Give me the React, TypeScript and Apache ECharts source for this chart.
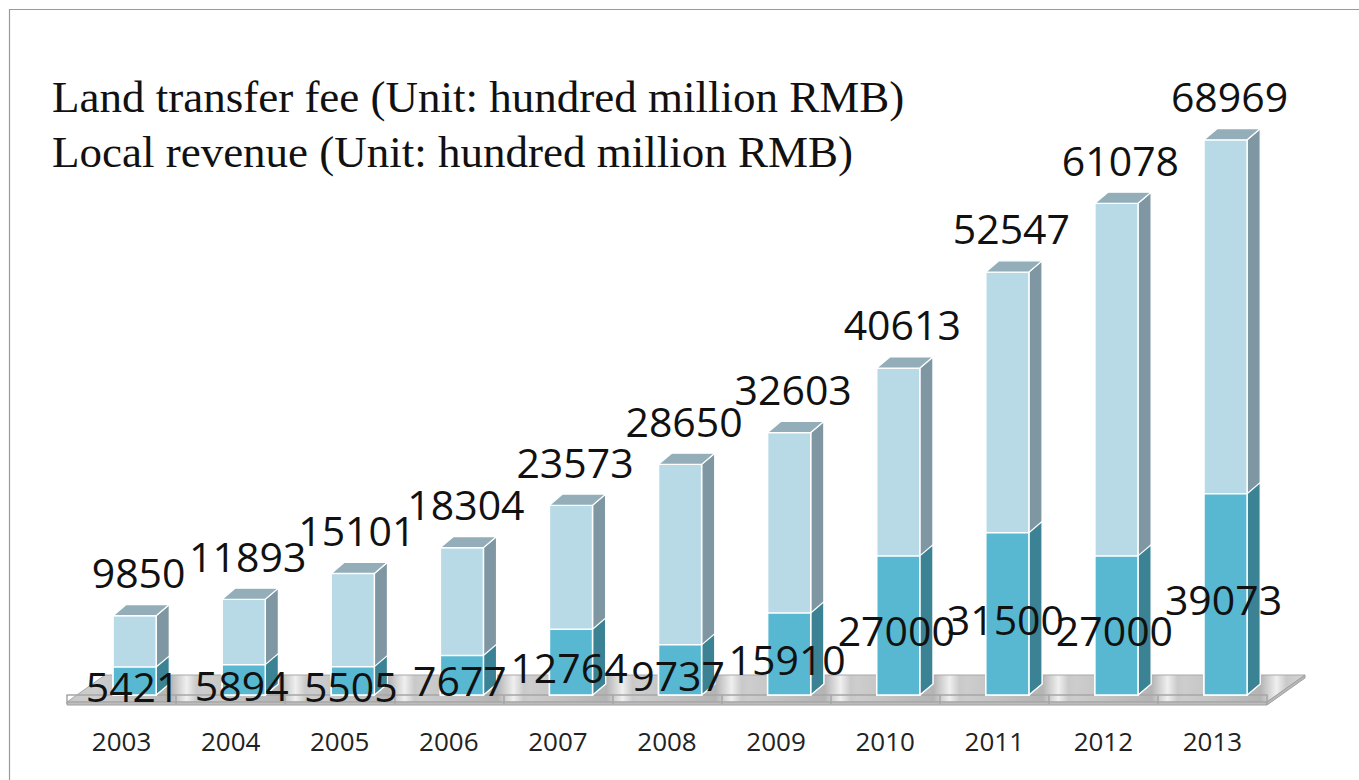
import React, { useEffect, useRef } from "react";
import * as echarts from "echarts";

const years = ["2003", "2004", "2005", "2006", "2007", "2008", "2009", "2010", "2011", "2012", "2013"];
const localRevenue = [9850, 11893, 15101, 18304, 23573, 28650, 32603, 40613, 52547, 61078, 68969];
const landTransferFee = [5421, 5894, 5505, 7677, 12764, 9737, 15910, 27000, 31500, 27000, 39073];
const titleLines = [
  "Land transfer fee (Unit: hundred million RMB)",
  "Local revenue (Unit: hundred million RMB)",
];

const W = 1359;
const H = 780;
const GRID_LEFT = 67;
const GRID_RIGHT = 92;
const GRID_TOP = 51;
const GRID_BOTTOM = 85;

const LIGHT = { front: "#b8d9e6", side: "#7f97a2", cap: "#93aeb9" };
const DARK = { front: "#58b8d1", side: "#3b8394" };
const LABEL_FONT = '41px "Open Sans"';

function makeRender(kind: "light" | "dark") {
  return (params: any, api: any) => {
    const i = api.value(0);
    const v = api.value(1);
    const base = api.coord([i, 0]);
    const top = api.coord([i, v]);
    const bw = api.size([1, 0])[0];
    const fw = bw * 0.395;
    const off = bw * 0.12;
    const dx = bw * 0.12;
    const dy = dx * 0.85;
    const cx = base[0] + off;
    const x0 = cx - fw / 2;
    const x1 = x0 + fw;
    const yt = top[1];
    const yb = base[1];
    const colors = kind === "light" ? LIGHT : DARK;
    const children: any[] = [];
    children.push({
      type: "polygon",
      shape: { points: [[x1, yt], [x1 + dx, yt - dy], [x1 + dx, yb - dy], [x1, yb]] },
      style: { fill: colors.side, stroke: "#ffffff", lineWidth: 1.2 },
    });
    children.push({
      type: "rect",
      shape: { x: x0, y: yt, width: fw, height: yb - yt },
      style: { fill: colors.front, stroke: "#ffffff", lineWidth: 1.5 },
    });
    if (kind === "light") {
      children.push({
        type: "polygon",
        shape: { points: [[x0, yt], [x0 + dx, yt - dy], [x1 + dx, yt - dy], [x1, yt]] },
        style: { fill: (LIGHT as any).cap, stroke: "#ffffff", lineWidth: 1.2 },
      });
      children.push({
        type: "text",
        z2: 100,
        style: {
          text: String(v),
          x: cx + 4,
          y: yt - dy - 12,
          align: "center",
          verticalAlign: "bottom",
          font: LABEL_FONT,
          fill: "#111111",
        },
      });
    } else {
      children.push({
        type: "text",
        z2: 100,
        style: {
          text: String(v),
          x: cx - 2,
          y: (yt + yb) / 2 + 5,
          align: "center",
          verticalAlign: "middle",
          font: LABEL_FONT,
          fill: "#111111",
        },
      });
    }
    return { type: "group", children };
  };
}

function floorGradient() {
  const x0 = GRID_LEFT;
  const x1 = 1306;
  const span = x1 - x0;
  const bw = (W - GRID_LEFT - GRID_RIGHT) / years.length;
  const stops: any[] = [{ offset: 0, color: "#c8c8c8" }];
  for (let i = 0; i < years.length; i++) {
    const c = GRID_LEFT + (i + 0.5) * bw + bw * 0.12;
    const pts: [number, string][] = [
      [c - 40, "#cdcdcd"],
      [c + 36, "#b4b4b4"],
      [c + 52, "#efefef"],
      [c + 62, "#c9c9c9"],
    ];
    for (const [px, col] of pts) {
      const o = (px - x0) / span;
      if (o > 0 && o < 1) stops.push({ offset: o, color: col });
    }
  }
  stops.push({ offset: 1, color: "#d6d6d6" });
  return new echarts.graphic.LinearGradient(0, 0, 1, 0, stops);
}

export default function App() {
  const ref = useRef<HTMLDivElement>(null);
  useEffect(() => {
    if (!ref.current) return;
    const chart = echarts.init(ref.current, undefined, { renderer: "svg" });
    const axisY = H - GRID_BOTTOM + 10;
    const floorBackY = axisY - 30;
    const floorFrontY = axisY - 3;
    const floorDx = 38;
    const leftX = GRID_LEFT;
    const rightX = W - GRID_RIGHT;
    chart.setOption({
      animation: false,
      backgroundColor: "#ffffff",
      grid: { left: GRID_LEFT, right: GRID_RIGHT, top: GRID_TOP, bottom: GRID_BOTTOM },
      xAxis: {
        type: "category",
        data: years,
        offset: 10,
        axisLine: { lineStyle: { color: "#a6a6a6", width: 1.5 } },
        axisTick: { show: true, length: 9, lineStyle: { color: "#a6a6a6", width: 1.5 } },
        axisLabel: { fontFamily: "Open Sans", fontSize: 26, color: "#222222", margin: 23 },
        z: 1,
      },
      yAxis: [
        { type: "value", min: 0, max: 80000, show: false },
        { type: "value", min: 0, max: 125000, show: false },
      ],
      graphic: [
        {
          type: "rect",
          z: -10,
          shape: { x: 9.5, y: 9.5, width: 1360, height: 790 },
          style: { fill: "none", stroke: "#9a9a9a", lineWidth: 1.2 },
        },
        {
          type: "polygon",
          z: -5,
          shape: {
            points: [
              [leftX, floorFrontY],
              [leftX + floorDx, floorBackY],
              [rightX + floorDx, floorBackY],
              [rightX, floorFrontY],
            ],
          },
          style: { fill: floorGradient(), stroke: "#a8a8a8", lineWidth: 1 },
        },
        {
          type: "polygon",
          z: -5,
          shape: {
            points: [
              [leftX, floorFrontY],
              [rightX, floorFrontY],
              [rightX, axisY],
              [leftX, axisY],
            ],
          },
          style: { fill: "#bdbdbd", stroke: "#a0a0a0", lineWidth: 1 },
        },
        {
          type: "polygon",
          z: -5,
          shape: {
            points: [
              [rightX, floorFrontY],
              [rightX + floorDx, floorBackY],
              [rightX + floorDx, floorBackY + 3],
              [rightX, axisY],
            ],
          },
          style: { fill: "#b8b8b8", stroke: "#a0a0a0", lineWidth: 1 },
        },
        {
          type: "text",
          left: 52,
          top: 74,
          style: { text: titleLines[0], font: '45px "Liberation Serif"', fill: "#111111" },
        },
        {
          type: "text",
          left: 52,
          top: 129,
          style: { text: titleLines[1], font: '45px "Liberation Serif"', fill: "#111111" },
        },
      ],
      series: [
        {
          type: "custom",
          name: "Local revenue",
          xAxisIndex: 0,
          yAxisIndex: 0,
          z: 2,
          renderItem: makeRender("light"),
          encode: { x: 0, y: 1 },
          data: localRevenue.map((v, i) => [i, v]),
        },
        {
          type: "custom",
          name: "Land transfer fee",
          xAxisIndex: 0,
          yAxisIndex: 1,
          z: 3,
          renderItem: makeRender("dark"),
          encode: { x: 0, y: 1 },
          data: landTransferFee.map((v, i) => [i, v]),
        },
      ],
    });
    return () => chart.dispose();
  }, []);
  return (
    <div
      ref={ref}
      style={{ position: "absolute", left: 0, top: 0, width: W, height: H, background: "#ffffff" }}
    />
  );
}
